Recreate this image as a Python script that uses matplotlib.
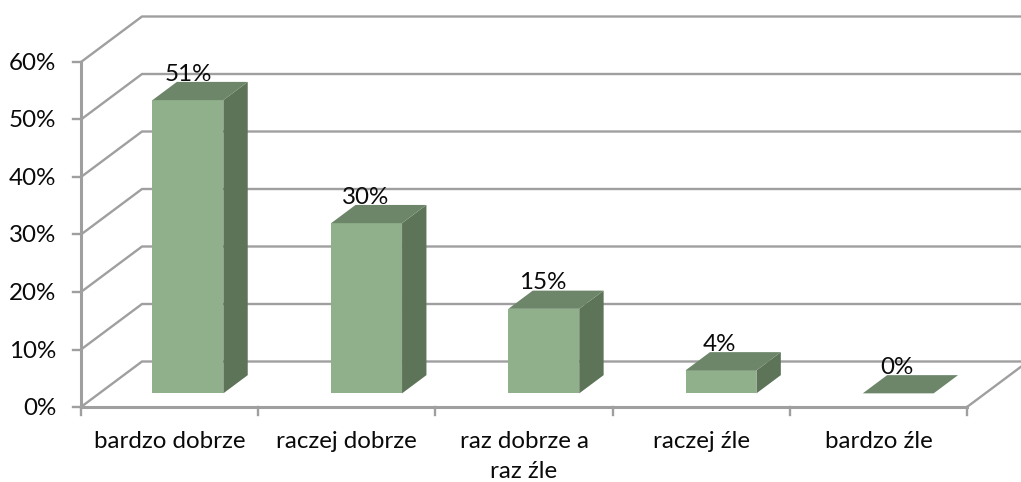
import matplotlib as mpl
import matplotlib.pyplot as plt

mpl.rcParams["font.family"] = ["Lato", "DejaVu Sans"]

categories = ["bardzo dobrze", "raczej dobrze", "raz dobrze a\nraz źle", "raczej źle", "bardzo źle"]
values = [51, 29.6, 14.7, 4, 0]
y_ticks = [0, 10, 20, 30, 40, 50, 60]

# pixel geometry of the fake 3D box
W, H = 1021, 482
X0, Y0 = 81, 407
CAT_PX = 177.2
PCT_PX = 5.75
DEPTH_X = 61 / CAT_PX  # back wall shift, in category units
DEPTH_Y = 45.5 / PCT_PX  # back wall shift, in percent units

GRID = "#9f9f9f"
FRONT = "#8fb08b"
TOP = "#6d8669"
SIDE = "#5e7459"
TEXT = "#0a0a0a"
FONT = 17.4


def proj(x, y, d=0.0):
    """Oblique projection: d is 0 at the front plane and 1 at the back wall."""
    return x + d * DEPTH_X, y + d * DEPTH_Y


fig = plt.figure(figsize=(W / 100, H / 100), dpi=100)
ax = fig.add_axes([0, 0, 1, 1])
ax.set_xlim(-X0 / CAT_PX, (W - X0) / CAT_PX)
ax.set_ylim(-(H - Y0) / PCT_PX, Y0 / PCT_PX)
ax.axis("off")

n = len(categories)

# gridlines along left wall and back wall
for v in y_ticks:
    a = proj(0, v)
    b = proj(0, v, 1)
    c = proj(n, v, 1)
    ax.plot([a[0], b[0], c[0]], [a[1], b[1], c[1]], color=GRID, lw=1.7, solid_joinstyle="miter", zorder=1)
    ax.text(-25 / CAT_PX, v - 1.5 / PCT_PX, f"{v}%", ha="right", va="center", fontsize=FONT, color=TEXT)
    ax.plot([-8 / CAT_PX, 0], [v, v], color=GRID, lw=1.7, zorder=1)

# axes and floor edges
ax.plot([0, 0], [0, y_ticks[-1]], color=GRID, lw=2.2, zorder=1)
ax.plot([0, n], [0, 0], color=GRID, lw=2.2, zorder=1)
b = proj(n, 0, 1)
ax.plot([n, b[0]], [0, b[1]], color=GRID, lw=1.7, zorder=1)
for i in range(n + 1):
    ax.plot([i, i], [0, -8 / PCT_PX], color=GRID, lw=1.7, zorder=1)

# bars
bar_w = 0.4
d0, d1 = 0.3, 0.7
bar_shift = 1.5 / CAT_PX
for i, v in enumerate(values):
    left = i + 0.5 - bar_w / 2 + bar_shift * (i > 0)
    right = left + bar_w
    if v > 0:
        pts = [proj(left, 0, d0), proj(right, 0, d0), proj(right, v, d0), proj(left, v, d0)]
        ax.fill(*zip(*pts), color=FRONT, lw=0, zorder=3)
        pts = [proj(right, 0, d0), proj(right, 0, d1), proj(right, v, d1), proj(right, v, d0)]
        ax.fill(*zip(*pts), color=SIDE, lw=0, zorder=3)
    pts = [proj(left, v, d0), proj(right, v, d0), proj(right, v, d1), proj(left, v, d1)]
    ax.fill(*zip(*pts), color=TOP, lw=0, zorder=3)
    lx, ly = proj(i + 0.5, v, d0)
    ax.text(lx, ly + 26 / PCT_PX, f"{v:.0f}%", ha="center", va="center", fontsize=FONT, color=TEXT, zorder=4)

# category labels
for i, label in enumerate(categories):
    ax.text(i + 0.5, -24 / PCT_PX, label, ha="center", va="top", fontsize=FONT, color=TEXT, linespacing=1.5)

fig.savefig("out.png", dpi=100, facecolor="white")
